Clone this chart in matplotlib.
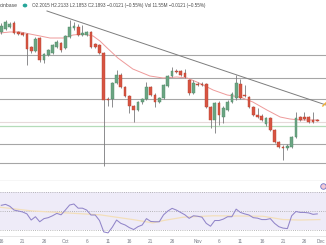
import matplotlib
matplotlib.use("Agg")
import matplotlib.pyplot as plt
import matplotlib.transforms as mtransforms
import numpy as np

# ---------------- data ----------------
opens  = [3.08, 3.11, 3.13, 3.17, 3.08, 3.07, 3.06, 2.93, 2.89, 3.02,
          2.80, 2.85, 2.87, 2.93, 2.97, 2.92, 3.03, 3.12, 3.13, 3.05,
          3.05, 3.08, 2.96, 2.95, 2.87, 2.41, 2.41, 2.57, 2.65, 2.53,
          2.44, 2.34, 2.30, 2.38, 2.41, 2.53, 2.45, 2.38, 2.42, 2.54,
          2.64, 2.69, 2.69, 2.67, 2.60, 2.47, 2.56, 2.56, 2.56, 2.33,
          2.20, 2.37, 2.23, 2.30, 2.38, 2.42, 2.56, 2.45, 2.43, 2.33,
          2.25, 2.24, 2.16, 2.22, 2.10, 1.98, 1.93, 1.92, 1.93, 2.03,
          2.23, 2.23, 2.23, 2.20, 2.2015]
closes = [3.14, 3.18, 3.16, 3.07, 3.06, 3.055, 2.91, 2.89, 3.01, 2.80,
          2.86, 2.90, 2.95, 2.98, 2.90, 3.04, 3.13, 3.14, 3.05, 3.07,
          3.08, 2.93, 2.93, 2.87, 2.40, 2.40, 2.57, 2.65, 2.53, 2.44,
          2.34, 2.30, 2.38, 2.41, 2.53, 2.45, 2.38, 2.42, 2.55, 2.64,
          2.69, 2.68, 2.65, 2.63, 2.47, 2.57, 2.55, 2.55, 2.33, 2.20,
          2.37, 2.25, 2.32, 2.38, 2.46, 2.57, 2.42, 2.44, 2.33, 2.25,
          2.23, 2.20, 2.22, 2.10, 1.98, 1.93, 1.92, 1.94, 2.03, 2.22,
          2.20, 2.21, 2.18, 2.18, 2.1893]
highs  = [3.17, 3.20, 3.18, 3.19, 3.09, 3.08, 3.07, 2.94, 3.03, 3.03,
          2.87, 2.91, 2.96, 3.00, 2.98, 3.05, 3.20, 3.18, 3.16, 3.15,
          3.09, 3.09, 2.97, 2.96, 2.88, 2.43, 2.58, 2.70, 2.67, 2.54,
          2.45, 2.35, 2.39, 2.42, 2.58, 2.54, 2.47, 2.43, 2.56, 2.65,
          2.73, 2.71, 2.70, 2.71, 2.61, 2.60, 2.58, 2.58, 2.57, 2.34,
          2.38, 2.39, 2.34, 2.40, 2.48, 2.65, 2.61, 2.55, 2.44, 2.34,
          2.32, 2.26, 2.23, 2.23, 2.11, 1.99, 1.95, 1.96, 2.04, 2.28,
          2.24, 2.28, 2.24, 2.28, 2.2133]
lows   = [3.06, 3.10, 3.12, 3.06, 3.05, 3.04, 2.75, 2.87, 2.88, 2.78,
          2.77, 2.84, 2.86, 2.92, 2.88, 2.91, 3.02, 3.10, 3.04, 3.04,
          3.04, 2.92, 2.92, 2.86, 1.74, 2.34, 2.33, 2.56, 2.52, 2.43,
          2.27, 2.18, 2.29, 2.36, 2.40, 2.44, 2.33, 2.37, 2.41, 2.53,
          2.63, 2.67, 2.64, 2.62, 2.45, 2.46, 2.54, 2.54, 2.32, 2.12,
          2.07, 2.15, 2.17, 2.29, 2.37, 2.40, 2.41, 2.43, 2.32, 2.24,
          2.22, 2.19, 2.14, 2.09, 1.97, 1.92, 1.80, 1.90, 1.92, 2.02,
          2.19, 2.20, 2.17, 2.17, 2.1853]

# moving average: candle index, price
ma_idx = [-0.3, 2.0, 4.4, 6.7, 9.1, 11.4, 14.5, 16.8, 19.1, 21.5, 23.1, 24.8,
          27.3, 30.8, 34.8, 37.9, 41.1, 43.5, 45.8, 48.2, 49.6, 52.9, 55.9,
          58.9, 62.2, 65.3, 67.6, 70.0, 74.2]
ma_val = [3.07, 3.08, 3.08, 3.06, 3.04, 3.02, 3.02, 3.05, 3.06, 3.04, 2.99, 2.92,
          2.82, 2.71, 2.64, 2.62, 2.63, 2.62, 2.58, 2.53, 2.50, 2.45, 2.43,
          2.38, 2.30, 2.23, 2.21, 2.20, 2.20]

# horizontal levels and trend line
gray_levels = [2.85, 2.62, 2.41, 1.96, 1.77]
light_level = 2.18
green_level = 2.14
trend_idx = [10.7, 76.04]
trend_val = [3.29, 2.35]

# RSI per candle
rsi = [56, 57, 55, 51, 50, 49, 47, 40.5, 44, 38.7,
       42, 43, 45, 47.5, 46, 51, 56.3, 57.4, 53, 53,
       51, 45.8, 45.8, 40, 28, 27, 33, 40.5, 37, 35.3,
       32.5, 30.5, 33.5, 35.3, 42, 39, 38.7, 38.7, 46, 50,
       52.8, 51, 48.5, 46, 42.3, 45, 44.5, 43.5, 37, 34,
       40, 40, 41.5, 44, 44, 52, 48.5, 47, 45.8, 43,
       42.5, 41, 41, 42, 37, 33.5, 32, 31.5, 45, 49.5,
       48.5, 48.5, 48, 46.5, 47]
rsi_ma_idx = [-0.3, 7.4, 15.4, 23.1, 30.8, 35.5, 38.0, 42.6, 49.6, 61.3, 66.0, 69.9, 74.6]
rsi_ma_val = [54, 50, 48, 46, 41, 37.5, 40, 43.5, 45, 44.5, 41, 40.5, 41]

tick_pos = [0, 5, 10, 15, 20, 25, 30, 35, 40, 46, 51, 56, 61, 66, 71, 76]
tick_lab = ["16", "21", "26", "Oct", "6", "11", "16", "21", "26",
            "Nov", "6", "11", "16", "21", "26", "Dec"]

legend_prefix = "oinbase"
legend_values = "O2.2015 H2.2133 L2.1853 C2.1893 \u22120.0121 (\u22120.55%) Vol 11.55M \u22120.0121 (\u22120.55%)"

# ---------------- drawing ----------------
W, H = 326, 245
fig = plt.figure(figsize=(W / 100, H / 100), dpi=100)
fig.patch.set_facecolor("white")

def px_box(top, bottom):
    return [0, 1 - bottom / H, 1, (bottom - top) / H]

ax = fig.add_axes(px_box(0, 181))
axr = fig.add_axes(px_box(181, 236))

XL = (-0.30, 76.04)
for a in (ax, axr):
    a.set_xlim(*XL)
    a.set_xticks([])
    a.set_yticks([])
    for s in a.spines.values():
        s.set_visible(False)

ax.set_ylim(1.59, 3.40)
ax.spines["bottom"].set_visible(True)
ax.spines["bottom"].set_color("#b8b8b8")
ax.spines["bottom"].set_linewidth(0.9)

# levels
for lv in gray_levels:
    ax.axhline(lv, color="#a6a6a6", lw=0.8, zorder=1)
ax.axhline(light_level, color="#e6dada", lw=0.8, zorder=1)
ax.axhline(green_level, color="#b5dcb9", lw=0.9, zorder=1)

# trend line
ax.plot(trend_idx, trend_val, color="#7d7d7d", lw=0.7, zorder=2)
ax.plot([75.3, 76.0], [2.34, 2.37], color="#f2b134", lw=1.0, zorder=2)

# moving average
ax.plot(ma_idx, ma_val, color="#ee9a9a", lw=0.7, zorder=2)

# candles
o = np.array(opens); c = np.array(closes)
hi = np.array(highs); lo = np.array(lows)
idx = np.arange(len(o))
up = c >= o
ax.vlines(idx, lo, hi, color="#7a7a7c", lw=0.6, zorder=3)
bottom = np.minimum(o, c)
height = np.maximum(np.abs(c - o), 0.01)
ax.bar(idx, height, bottom=bottom, width=0.64,
       color=np.where(up, "#6ba583", "#d75442"),
       edgecolor=np.where(up, "#4f8a68", "#b9432f"),
       linewidth=0.3, zorder=4)

# RSI panel
axr.set_ylim(23.7, 81.6)
axr.axhspan(30, 70, color="#eeebf8", zorder=0, lw=0)
for lv in (70, 50, 30):
    axr.axhline(lv, color="#a3a3a3", lw=0.6, ls=(0, (1, 1.6)), zorder=1)
axr.plot(rsi_ma_idx, rsi_ma_val, color="#f3dfba", lw=0.9, zorder=2)
axr.plot(idx, rsi, color="#9185c9", lw=0.75, zorder=3)
axr.plot([75.4], [76.0], marker="o", ms=4.0, mfc="#f2c9d4", mec="#6a74c9", mew=0.6,
         zorder=4, clip_on=False)
axr.spines["bottom"].set_visible(True)
axr.spines["bottom"].set_color("#e2e2e2")
axr.spines["bottom"].set_linewidth(0.6)

# time labels
trans = mtransforms.blended_transform_factory(axr.transData, fig.transFigure)
for p, t in zip(tick_pos, tick_lab):
    if p == tick_pos[-1]:
        fig.text(325.5 / W, 1 - 241 / H, t, ha="right", va="center",
                 fontsize=3.4, color="#777a85", family="Liberation Sans")
    else:
        axr.text(p, 1 - 241 / H, t, transform=trans, ha="center", va="center",
                 fontsize=3.4, color="#777a85", family="Liberation Sans", clip_on=False)

# legend line at top
ty = 1 - 5.5 / H
fig.text(0 / W, ty, legend_prefix, fontsize=3.6, color="#4a4a4a",
         family="Liberation Sans", va="center", ha="left")
fig.patches.append(matplotlib.patches.Circle((25 / W, ty), 1.6 / W, transform=fig.transFigure,
                                             color="#26a69a", zorder=5))
tv = fig.text(31.7 / W, ty, legend_values, fontsize=3.6, color="#4a4a4a",
              family="Liberation Sans", va="center", ha="left")
fig.canvas.draw()
ext = tv.get_window_extent(fig.canvas.get_renderer())
target = 206 - 31.7
tv.set_fontsize(3.6 * target / ext.width)

fig.savefig("out.png", dpi=100, facecolor="white")
